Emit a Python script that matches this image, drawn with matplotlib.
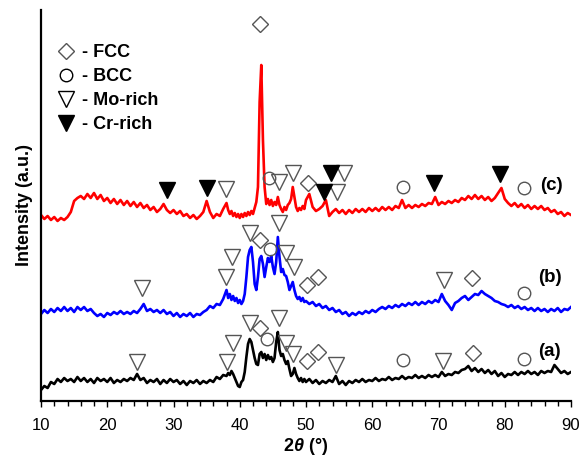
import numpy as np
import matplotlib
matplotlib.use("Agg")
import matplotlib.pyplot as plt
from matplotlib.lines import Line2D

plt.rcParams["font.family"] = "Liberation Sans"
plt.rcParams["mathtext.fontset"] = "custom"
plt.rcParams["mathtext.it"] = "Liberation Sans:italic:bold"
plt.rcParams["mathtext.rm"] = "Liberation Sans:bold"

# ── data (intensity in arbitrary units) ──────────────────────────────────────
two_theta = np.concatenate([np.arange(10, 37.51, 0.5),
                            np.arange(38, 49.76, 0.25),
                            np.arange(50, 90.01, 0.5)])

int_a = [12, 16, 14, 20, 18, 23, 20, 24, 21, 23, 20, 25, 21, 24, 20, 23, 19, 24, 21, 23,
         20, 24, 19, 22, 20, 23, 21, 24, 22, 28, 22, 24, 19, 22, 20, 23, 18, 22, 19, 23,
         20, 22, 18, 21, 17, 21, 19, 22, 18, 21, 19, 22, 20, 25, 23, 27,
         26, 29, 27, 31, 28, 24, 20, 16, 15, 20, 22, 30, 45, 58, 63, 60, 52, 44, 38, 37,
         48, 50, 44, 48, 42, 47, 43, 45, 40, 44, 60, 70, 52, 46, 48, 42, 38, 41, 33, 26,
         28, 34, 28, 24, 21, 24, 20, 23,
         20, 23, 19, 22, 18, 21, 19, 22, 20, 26, 18, 21, 17, 21, 19, 22, 20, 23, 20, 22,
         21, 24, 21, 23, 22, 25, 22, 24, 23, 26, 23, 25, 24, 27, 24, 26, 24, 27, 25, 27,
         25, 30, 26, 28, 27, 30, 29, 32, 33, 36, 31, 34, 30, 33, 29, 32, 28, 31, 26, 29,
         25, 28, 27, 30, 27, 30, 28, 31, 28, 30, 27, 31, 29, 31, 30, 37, 33, 29, 31, 28, 30]

int_b = [88, 92, 89, 93, 90, 94, 91, 95, 91, 94, 90, 95, 92, 95, 91, 93, 89, 86, 88, 85,
         89, 87, 90, 88, 91, 88, 90, 88, 91, 89, 93, 98, 91, 93, 90, 92, 89, 92, 88, 90,
         86, 89, 85, 88, 86, 89, 85, 88, 87, 90, 92, 96, 94, 98, 97, 103,
         112, 104, 108, 102, 106, 101, 104, 99, 102, 98, 101, 108, 125, 145, 152, 155,
         140, 118, 112, 125, 143, 146, 138, 125, 135, 144, 140, 146, 135, 128, 140, 165,
         145, 130, 133, 127, 126, 120, 112, 116, 120, 112, 106, 103, 105, 101, 104, 100,
         101, 98, 100, 96, 98, 94, 96, 92, 94, 90, 92, 88, 90, 86, 89, 87, 90, 88, 91, 89,
         92, 90, 93, 95, 93, 96, 94, 97, 95, 98, 96, 99, 97, 100, 97, 100, 98, 101, 99, 102,
         100, 108, 101, 97, 92, 99, 101, 104, 106, 102, 105, 108, 107, 111, 108, 106, 104, 101, 100, 98,
         97, 95, 97, 94, 96, 93, 95, 92, 94, 91, 94, 91, 93, 90, 93, 91, 94, 90, 93, 92, 95]

int_c = [187, 183, 186, 182, 185, 181, 184, 182, 185, 190, 201, 204, 206, 203, 208, 204, 209, 203, 207, 201,
         204, 199, 203, 198, 202, 197, 201, 196, 200, 195, 199, 194, 197, 192, 195, 190, 193, 198, 192, 189,
         192, 188, 191, 186, 188, 184, 187, 183, 186, 190, 201, 190, 184, 188, 186, 193,
         199, 192, 188, 191, 186, 189, 185, 188, 184, 188, 185, 189, 186, 190, 187, 191,
         188, 194, 200, 215, 300, 337, 262, 215, 198, 203, 197, 202, 196, 200, 197, 205,
         197, 193, 190, 195, 192, 197, 199, 203, 215, 205, 195, 191, 194, 192, 196, 193,
         202, 208, 195, 191, 193, 196, 202, 186, 190, 193, 189, 192, 188, 192, 189, 193, 190, 193, 190, 194,
         191, 194, 191, 195, 192, 195, 192, 196, 194, 202, 194, 197, 194, 197, 195, 198, 196, 199, 198, 205,
         197, 200, 198, 201, 199, 202, 200, 204, 202, 206, 203, 207, 203, 206, 202, 205, 201, 204, 209, 214,
         203, 199, 196, 199, 195, 198, 194, 197, 193, 196, 193, 196, 192, 194, 190, 192, 188, 190, 186, 189, 187]

# phase marks: (2theta, height)
fcc_x = [43.1, 50.3, 43.1, 50.2, 51.8, 75.1, 43.1, 50.2, 51.8, 75.2]
fcc_y = [378, 219, 162, 117, 125, 124, 74, 41, 50, 49]
bcc_x = [44.4, 64.6, 82.9, 44.6, 82.9, 44.1, 64.6, 82.9]
bcc_y = [224, 215, 214, 153, 109, 63, 42, 43]
mo_x = [37.9, 45.9, 48.0, 54.7, 55.7,
        25.2, 37.9, 38.8, 41.5, 45.9, 47.0, 48.2, 70.8,
        24.5, 38.1, 39.0, 41.5, 45.9, 47.0, 48.0, 54.5, 70.7]
mo_y = [213, 220, 229, 210, 229,
        114, 125, 145, 169, 179, 149, 135, 122,
        40, 40, 59, 79, 84, 59, 48, 37, 41]
cr_x = [29.0, 35.1, 52.7, 53.8, 69.3, 79.3]
cr_y = [212, 214, 210, 229, 219, 228]

curve_tags = ["(a)", "(b)", "(c)"]
tag_x = [86.8, 86.8, 87.1]
tag_y = [50, 124, 217]

# ── plot ──────────────────────────────────────────────────────────────────────
fig = plt.figure(figsize=(5.85, 4.59), dpi=100)
ax = fig.add_axes([41 / 585, 58 / 459, 530 / 585, 391 / 459])

ax.plot(two_theta, int_a, color="black", lw=1.9)
ax.plot(two_theta, int_b, color="#0000FF", lw=1.9)
ax.plot(two_theta, int_c, color="#FF0000", lw=1.9)

grey = "#555555"
ax.plot(fcc_x, fcc_y, ls="none", marker="D", ms=8, mfc="none", mec=grey, mew=1)
ax.plot(bcc_x, bcc_y, ls="none", marker="o", ms=9, mfc="none", mec=grey, mew=1)
ax.plot(mo_x, mo_y, ls="none", marker="v", ms=11, mfc="none", mec=grey, mew=1)
ax.plot(cr_x, cr_y, ls="none", marker="v", ms=11, mfc="black", mec="black", mew=1)

for t, x, y in zip(curve_tags, tag_x, tag_y):
    ax.text(x, y, t, ha="center", va="center", fontsize=13.5, fontweight="bold")

handles = [
    Line2D([], [], ls="none", marker="D", ms=8, mfc="none", mec=grey, mew=1),
    Line2D([], [], ls="none", marker="o", ms=9, mfc="none", mec="black", mew=1),
    Line2D([], [], ls="none", marker="v", ms=11, mfc="none", mec="black", mew=1),
    Line2D([], [], ls="none", marker="v", ms=11, mfc="black", mec="black", mew=1),
]
ax.legend(handles, ["- FCC", "- BCC", "- Mo-rich", "- Cr-rich"],
          loc="upper left", bbox_to_anchor=(0.034, 0.912), frameon=False,
          borderpad=0, borderaxespad=0, handlelength=0.8, handletextpad=0.49,
          labelspacing=0.38, prop={"weight": "bold", "size": 13})

ax.set_xlim(10, 90)
ax.set_ylim(1, 392)
ax.set_xticks(range(10, 91, 10))
ax.set_xticks(range(10, 91, 2), minor=True)
ax.set_yticks([])
ax.tick_params(axis="x", which="major", direction="out", length=4.5, width=1, labelsize=12, pad=8)
ax.tick_params(axis="x", which="minor", direction="out", length=3.5, width=1)
for s in ["top", "right"]:
    ax.spines[s].set_visible(False)
for s in ["left", "bottom"]:
    ax.spines[s].set_linewidth(1.6)

ax.set_xlabel(r"2$\theta$ (°)", fontsize=13, fontweight="bold", labelpad=2)
ax.set_ylabel("Intensity (a.u.)", fontsize=13, fontweight="bold", labelpad=6)

fig.savefig("out.png", dpi=100)
